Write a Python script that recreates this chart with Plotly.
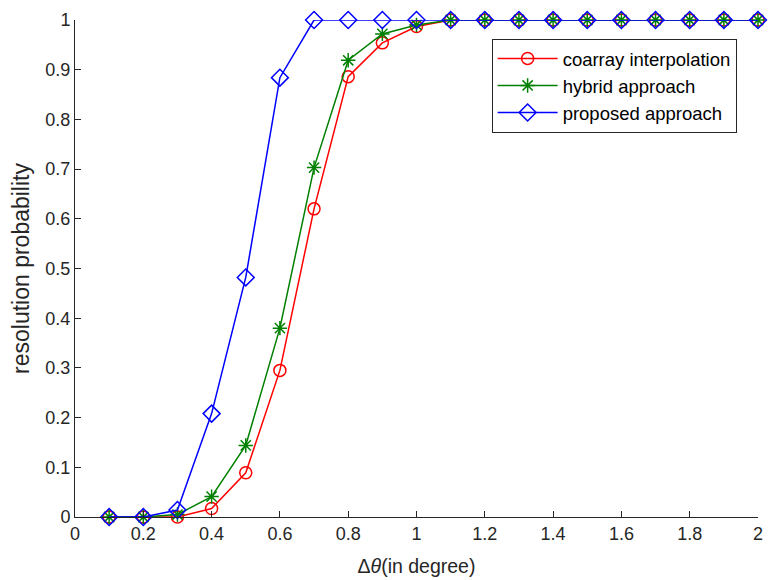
import plotly.graph_objects as go

x_vals = [0.1, 0.2, 0.3, 0.4, 0.5, 0.6, 0.7, 0.8, 0.9, 1.0, 1.1, 1.2, 1.3, 1.4, 1.5, 1.6, 1.7, 1.8, 1.9, 2.0]
coarray = [0, 0, 0, 0.017, 0.089, 0.295, 0.62, 0.886, 0.954, 0.987, 1, 1, 1, 1, 1, 1, 1, 1, 1, 1]
hybrid = [0, 0, 0.005, 0.041, 0.144, 0.38, 0.703, 0.919, 0.972, 0.99, 1, 1, 1, 1, 1, 1, 1, 1, 1, 1]
proposed = [0, 0, 0.014, 0.208, 0.482, 0.884, 1, 1, 1, 1, 1, 1, 1, 1, 1, 1, 1, 1, 1, 1]

x_ticks = [0, 0.2, 0.4, 0.6, 0.8, 1, 1.2, 1.4, 1.6, 1.8, 2]
x_tick_labels = ["0", "0.2", "0.4", "0.6", "0.8", "1", "1.2", "1.4", "1.6", "1.8", "2"]
y_ticks = [0, 0.1, 0.2, 0.3, 0.4, 0.5, 0.6, 0.7, 0.8, 0.9, 1]
y_tick_labels = ["0", "0.1", "0.2", "0.3", "0.4", "0.5", "0.6", "0.7", "0.8", "0.9", "1"]

series = [
    ("coarray interpolation", coarray, "#ff0000", "circle-open", 12),
    ("hybrid approach", hybrid, "#008000", "asterisk-open", 12),
    ("proposed approach", proposed, "#0000ff", "diamond-open", 13),
]

FONT = "Liberation Sans, Arial, sans-serif"

fig = go.Figure()
for name, vals, color, sym, size in series:
    fig.add_trace(go.Scatter(
        x=x_vals, y=vals, name=name, mode="lines+markers",
        line=dict(color=color, width=1.5),
        marker=dict(symbol=sym, size=size, color=color, line=dict(color=color, width=1.5)),
        cliponaxis=False,
    ))

axis_common = dict(
    showgrid=False, zeroline=False, showline=True, linecolor="#262626", linewidth=1,
    ticks="inside", ticklen=6, tickcolor="#262626", tickwidth=1,
    tickfont=dict(family=FONT, size=18, color="#262626"),
    ticklabeloverflow="allow",
)

fig.update_layout(
    width=768, height=580,
    margin=dict(l=75, r=5, t=20, b=63),
    paper_bgcolor="white", plot_bgcolor="white",
    font=dict(family=FONT, size=18, color="#262626"),
    xaxis=dict(range=[0, 2], tickvals=x_ticks, ticktext=x_tick_labels,
               title=dict(text="Δ<i>θ</i>(in degree)", font=dict(size=19.5), standoff=16),
               **axis_common),
    yaxis=dict(range=[0, 1], tickvals=y_ticks, ticktext=y_tick_labels,
               title=dict(text="resolution probability", font=dict(size=23), standoff=9),
               **axis_common),
    legend=dict(x=0.61, y=0.962, xanchor="left", yanchor="top",
                bgcolor="white", bordercolor="#262626", borderwidth=1,
                font=dict(family=FONT, size=18.5, color="#000000"), itemwidth=60,
                tracegroupgap=0),
    showlegend=True,
)

fig.write_html("out.html")
